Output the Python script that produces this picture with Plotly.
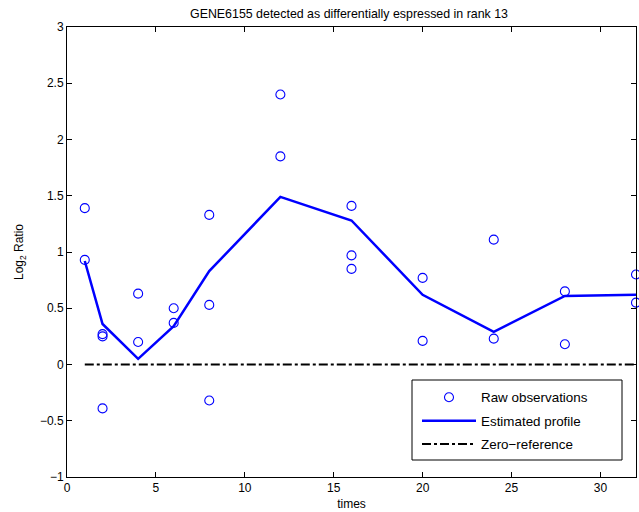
import plotly.graph_objects as go

obs_x = [1, 1, 2, 2, 2, 4, 4, 6, 6, 8, 8, 8, 12, 12, 16, 16, 16, 20, 20, 24, 24, 28, 28, 32, 32]
obs_y = [1.39, 0.93, 0.27, 0.25, -0.39, 0.63, 0.20, 0.50, 0.37, 1.33, 0.53, -0.32,
         2.40, 1.85, 1.41, 0.97, 0.85, 0.77, 0.21, 1.11, 0.23, 0.65, 0.18, 0.80, 0.55]

prof_x = [1, 2, 4, 6, 8, 12, 16, 20, 24, 28, 32]
prof_y = [0.92, 0.36, 0.05, 0.34, 0.83, 1.49, 1.28, 0.62, 0.29, 0.61, 0.62]

zero_x = [1, 32]
zero_y = [0, 0]

x_ticks = [0, 5, 10, 15, 20, 25, 30]
y_ticks = [-1, -0.5, 0, 0.5, 1, 1.5, 2, 2.5, 3]
y_tick_text = ["\u22121", "\u22120.5", "0", "0.5", "1", "1.5", "2", "2.5", "3"]

FONT = "Liberation Sans, Arial, Helvetica, sans-serif"

fig = go.Figure()
fig.add_trace(go.Scatter(x=obs_x, y=obs_y, mode="markers", name="Raw observations",
                         legendgroup="a",
                         marker=dict(symbol="circle-open", size=9, color="#0000ff",
                                     line=dict(width=1.1, color="#0000ff")),
                         cliponaxis=False))
fig.add_trace(go.Scatter(x=prof_x, y=prof_y, mode="lines", name="Estimated profile",
                         legendgroup="b",
                         line=dict(color="#0000ff", width=2.5)))
fig.add_trace(go.Scatter(x=zero_x, y=zero_y, mode="lines", name="Zero\u2212reference",
                         legendgroup="c",
                         line=dict(color="black", width=2, dash="dashdot")))

axis_common = dict(showline=True, linecolor="black", linewidth=1, mirror="ticks",
                   ticks="inside", ticklen=5, tickcolor="black", showgrid=False,
                   zeroline=False, tickfont=dict(size=12, color="black", family=FONT))

fig.update_xaxes(range=[0, 32], tickvals=x_ticks,
                 title=dict(text="times", font=dict(size=12, color="black", family=FONT), standoff=5),
                 **axis_common)
fig.update_yaxes(range=[-1, 3], tickvals=y_ticks, ticktext=y_tick_text,
                 title=dict(text="Log<sub>2</sub> Ratio", font=dict(size=12, color="black", family=FONT), standoff=13),
                 **axis_common)

fig.add_shape(type="rect", xref="paper", yref="paper",
              x0=(412 - 67) / 569, x1=(622 - 67) / 569,
              y0=(477 - 460) / 450, y1=(477 - 380) / 450,
              line=dict(color="black", width=1), fillcolor="white", layer="above")

fig.update_layout(
    width=639, height=512,
    margin=dict(l=67, r=3, t=27, b=35),
    paper_bgcolor="white", plot_bgcolor="white",
    font=dict(family=FONT, size=12, color="black"),
    title=dict(text="GENE6155 detected as differentially espressed in rank 13",
               x=(349) / 639, xanchor="center", y=1 - 14 / 512, yanchor="middle",
               font=dict(size=12.4, color="black", family=FONT)),
    showlegend=True,
    legend=dict(x=(417 - 67) / 569, y=(477 - 382) / 450, xanchor="left", yanchor="top",
                bgcolor="rgba(0,0,0,0)", borderwidth=0, itemwidth=54,
                font=dict(size=13.4, color="black", family=FONT),
                tracegroupgap=3),
)

fig.write_html("out.html", config={"displayModeBar": False},
               post_script="document.body.style.margin='0px';")
